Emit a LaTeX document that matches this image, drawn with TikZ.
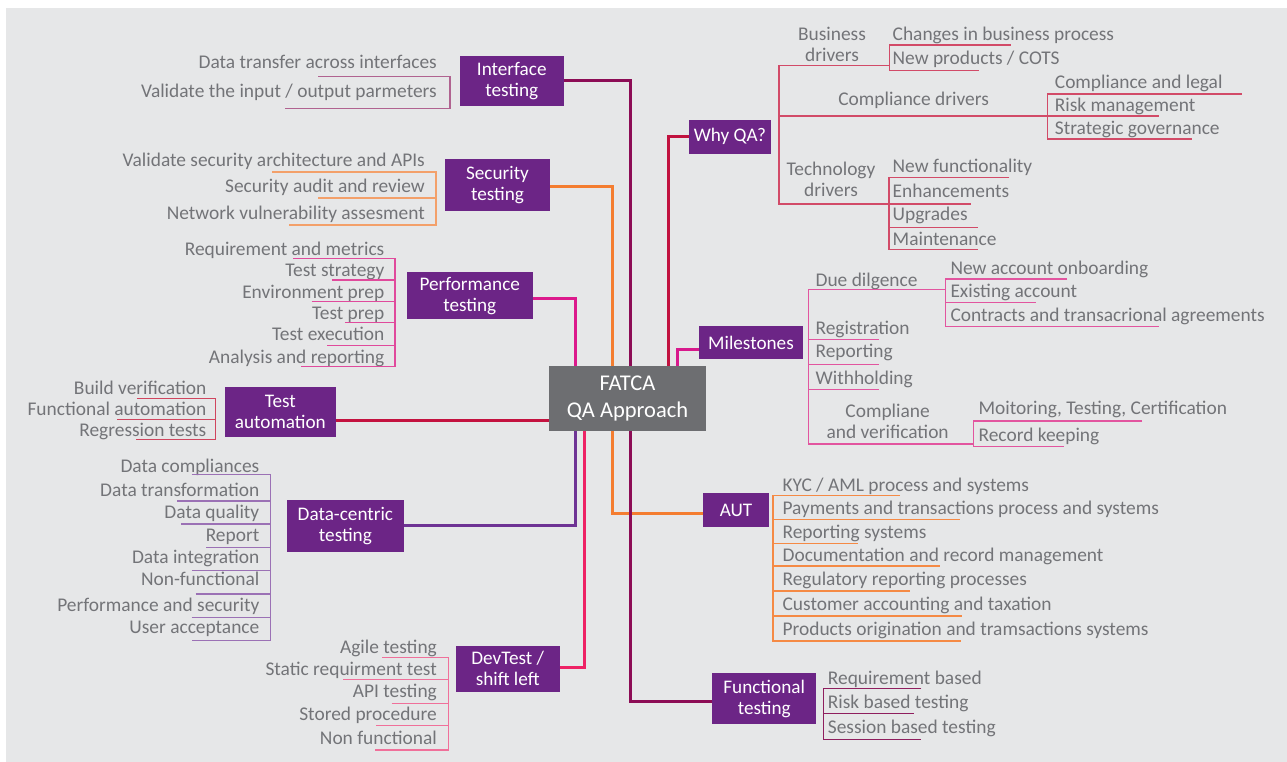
\documentclass[tikz,border=0pt]{standalone}
\usepackage{fontspec}
\setmainfont{Carlito}
\definecolor{bg}{HTML}{E6E7E8}
\definecolor{boxpurple}{HTML}{6C2586}
\definecolor{centergrey}{HTML}{6D6E71}
\definecolor{txtgrey}{HTML}{737478}
\definecolor{cIface}{HTML}{8C0C55}
\definecolor{cOrange}{HTML}{F47D30}
\definecolor{cPerf}{HTML}{DC1A8C}
\definecolor{cTA}{HTML}{C4123F}
\definecolor{cData}{HTML}{6E3394}
\definecolor{cDev}{HTML}{EE2265}
\definecolor{cWhy}{HTML}{C1123F}
\definecolor{cMile}{HTML}{D8198C}
\definecolor{sIface}{HTML}{B06390}
\definecolor{sSec}{HTML}{F3A06A}
\definecolor{sPerf}{HTML}{E04A9C}
\definecolor{sTA}{HTML}{D0455E}
\definecolor{sData}{HTML}{9B71B5}
\definecolor{sDev}{HTML}{F0709A}
\definecolor{sWhy}{HTML}{D24B68}
\definecolor{sMile}{HTML}{E2559F}
\definecolor{sAUT}{HTML}{F58A45}
\definecolor{sFunc}{HTML}{8F1E5E}
\tikzset{
  box/.style={fill=boxpurple, text=white, align=center, inner sep=0pt,
    font=\fontsize{19.2}{21}\selectfont},
  centerbox/.style={fill=centergrey, text=white, align=center, inner sep=0pt,
    minimum width=157pt, minimum height=65pt, font=\fontsize{22.5}{27}\selectfont},
  itemR/.style={text=txtgrey, inner sep=0pt, anchor=base east, font=\fontsize{19.4}{21}\selectfont},
  itemL/.style={text=txtgrey, inner sep=0pt, anchor=base west, font=\fontsize{19.4}{21}\selectfont},
  itemC/.style={text=txtgrey, inner sep=0pt, align=center, font=\fontsize{19.4}{21}\selectfont},
  conn/.style={line width=3pt},
  sub/.style={line width=1.4pt},
}
\begin{document}
\begin{tikzpicture}[x=1pt,y=-1pt]
\useasboundingbox (0,0) rectangle (1287,762);
\fill[white] (0,0) rectangle (1287,762);
\fill[bg] (6,8) rectangle (1287,762);

% boxes
\node[centerbox] (center) at (627.5,398.5) {FATCA\\QA Approach};
\node[box, minimum width=103.5pt, minimum height=49.7pt] (iface) at (511.75,80.85) {Interface\\testing};
\node[box, minimum width=105pt, minimum height=51.7pt] (sec) at (497.5,184.85) {Security\\testing};
\node[box, minimum width=125.5pt, minimum height=47pt] (perf) at (469.75,295.8) {Performance\\testing};
\node[box, minimum width=110.7pt, minimum height=49.4pt] (ta) at (280.35,412) {Test\\automation};
\node[box, minimum width=117.2pt, minimum height=51.7pt] (data) at (345.4,525.85) {Data-centric\\testing};
\node[box, minimum width=103.6pt, minimum height=45.7pt] (dev) at (507.7,668.85) {DevTest /\\shift left};
\node[box, minimum width=81.8pt, minimum height=33.7pt] (why) at (729.9,136.85) {Why QA?};
\node[box, minimum width=104pt, minimum height=33.3pt] (mile) at (751,342.65) {Milestones};
\node[box, minimum width=66pt, minimum height=33.4pt] (aut) at (736,510) {AUT};
\node[box, minimum width=104pt, minimum height=51pt] (func) at (764.2,698.8) {Functional\\testing};

% main connectors
\draw[conn,cIface] (iface.east) -| ([xshift=2.5pt]center.north);
\draw[conn,cOrange] ([yshift=-1.8pt]sec.east) -| ([xshift=-15pt]center.north);
\draw[conn,cPerf] ([yshift=-3pt]perf.east) -| ([xshift=-52.5pt]center.north);
\draw[conn,cTA] ([yshift=-8.7pt]ta.east) -- ([yshift=-8.7pt]ta.east -| center.west);
\draw[conn,cData] (data.east) -| ([xshift=-52.5pt]center.south);
\draw[conn,cDev] ([yshift=1.2pt]dev.east) -| ([xshift=-43.5pt]center.south);
\draw[conn,cWhy] ([yshift=0.8pt]why.west) -| ([xshift=41pt]center.north);
\draw[conn,cMile] ([yshift=-6.6pt]mile.west) -| ([xshift=50pt]center.north);
\draw[conn,cOrange] ([yshift=-3.3pt]aut.west) -| ([xshift=-15pt]center.south);
\draw[conn,cIface] ([yshift=-2.8pt]func.west) -| ([xshift=2.5pt]center.south);

% Interface items
\node[itemR] (i1) at (437,69) {Data transfer across interfaces};
\node[itemR] (i2) at (437,98) {Validate the input / output parmeters};
\draw[sub,sIface] (318,76.7) -- (450,76.7) -- (450,108.7) -- (285,108.7);

% Security items
\node[itemR] (s1) at (425,167) {Validate security architecture and APIs};
\node[itemR] (s2) at (425,193) {Security audit and review};
\node[itemR] (s3) at (425,219) {Network vulnerability assesment};
\draw[sub,sSec] (272,172) -- (436,172) -- (436,225) -- (289,225);
\draw[sub,sSec] (318,198) -- (436,198);

% Performance items
\node[itemR] (p1) at (384.5,255) {Requirement and metrics};
\node[itemR] (p2) at (384.5,276) {Test strategy};
\node[itemR] (p3) at (384.5,298) {Environment prep};
\node[itemR] (p4) at (384.5,319) {Test prep};
\node[itemR] (p5) at (384.5,340) {Test execution};
\node[itemR] (p6) at (384.5,363) {Analysis and reporting};
\draw[sub,sPerf] (293,258.3) -- (395,258.3) -- (395,366.7) -- (300.9,366.7);
\draw[sub,sPerf] (331.5,280) -- (395,280);
\draw[sub,sPerf] (311.6,301.7) -- (395,301.7);
\draw[sub,sPerf] (344.8,322.3) -- (395,322.3);
\draw[sub,sPerf] (327.4,345.3) -- (395,345.3);

% Test automation items
\node[itemR] (t1) at (206.5,394) {Build verification};
\node[itemR] (t2) at (206.5,415) {Functional automation};
\node[itemR] (t3) at (206.5,436) {Regression tests};
\draw[sub,sTA] (136.8,398.7) -- (215.5,398.7) -- (215.5,439.3) -- (136,439.3);
\draw[sub,sTA] (117,419.3) -- (215.5,419.3);

% Data-centric items
\node[itemR] (d1) at (259.5,472) {Data compliances};
\node[itemR] (d2) at (259.5,496) {Data transformation};
\node[itemR] (d3) at (259.5,518) {Data quality};
\node[itemR] (d4) at (259.5,541) {Report};
\node[itemR] (d5) at (259.5,563) {Data integration};
\node[itemR] (d6) at (259.5,585) {Non-functional};
\node[itemR] (d7) at (259.5,611) {Performance and security};
\node[itemR] (d8) at (259.5,633) {User acceptance};
\draw[sub,sData] (191.5,474.7) -- (270.6,474.7) -- (270.6,640.7) -- (191.5,640.7);
\draw[sub,sData] (177,501) -- (270.6,501);
\draw[sub,sData] (181,524) -- (270.6,524);
\draw[sub,sData] (206.4,547.3) -- (270.6,547.3);
\draw[sub,sData] (191.9,570.7) -- (270.6,570.7);
\draw[sub,sData] (195.6,594) -- (270.6,594);
\draw[sub,sData] (191.5,617.3) -- (270.6,617.3);

% DevTest items
\node[itemR] (v1) at (437,653) {Agile testing};
\node[itemR] (v2) at (437,675) {Static requirment test};
\node[itemR] (v3) at (437,697) {API testing};
\node[itemR] (v4) at (437,720) {Stored procedure};
\node[itemR] (v5) at (437,744) {Non functional};
\draw[sub,sDev] (382,657.3) -- (448.4,657.3) -- (448.4,750) -- (375,750);
\draw[sub,sDev] (343,679.3) -- (448.4,679.3);
\draw[sub,sDev] (391.6,703.3) -- (448.4,703.3);
\draw[sub,sDev] (376,725.7) -- (448.4,725.7);

% Why QA
\node[itemC] (wb) at (832,44.8) {Business\\drivers};
\node[itemL] (wb1) at (892.5,41) {Changes in business process};
\node[itemL] (wb2) at (892.5,65) {New products / COTS};
\node[itemC, anchor=base] (wc) at (913.6,106) {Compliance drivers};
\node[itemL] (wc1) at (1054.7,89) {Compliance and legal};
\node[itemL] (wc2) at (1054.7,112) {Risk management};
\node[itemL] (wc3) at (1054.7,135) {Strategic governance};
\node[itemC] (wt) at (831,179.8) {Technology\\drivers};
\node[itemL] (wt1) at (892.5,173) {New functionality};
\node[itemL] (wt2) at (892.5,197) {Enhancements};
\node[itemL] (wt3) at (892.5,221) {Upgrades};
\node[itemL] (wt4) at (892.5,245) {Maintenance};
\draw[sub,sWhy] (889.6,65.7) -- (779,65.7) -- (779,204) -- (971,204);
\draw[sub,sWhy] (779,116) -- (1159,116);
\draw[sub,sWhy] (1010.5,45) -- (889.6,45) -- (889.6,70.7) -- (979.2,70.7);
\draw[sub,sWhy] (1241.6,94) -- (1047.7,94) -- (1047.7,139) -- (1191.7,139);
\draw[sub,sWhy] (1009.3,177.7) -- (888.8,177.7) -- (888.8,249.3) -- (978.4,249.3);
\draw[sub,sWhy] (888.8,227.3) -- (978.4,227.3);

% Milestones
\node[itemL] (m1) at (815.4,286) {Due dilgence};
\node[itemL] (m11) at (950.3,274) {New account onboarding};
\node[itemL] (m12) at (950.3,297) {Existing account};
\node[itemL] (m13) at (950.3,321) {Contracts and transacrional agreements};
\node[itemL] (m2) at (815.4,334) {Registration};
\node[itemL] (m3) at (815.4,357) {Reporting};
\node[itemL] (m4) at (815.4,384) {Withholding};
\node[itemC] (m5) at (887.6,421) {Compliane\\and verification};
\node[itemL] (m51) at (978.4,414) {Moitoring, Testing, Certification};
\node[itemL] (m52) at (978.4,441) {Record keeping};
\draw[sub,sMile] (945.3,289.3) -- (808.4,289.3) -- (808.4,444) -- (973.4,444);
\draw[sub,sMile] (1067,279) -- (945.3,279) -- (945.3,326.7) -- (1159,326.7);
\draw[sub,sMile] (945.3,302.3) -- (1036,302.3);
\draw[sub,sMile] (808.4,339.3) -- (879.3,339.3);
\draw[sub,sMile] (808.4,364.3) -- (879.3,364.3);
\draw[sub,sMile] (808.4,389.3) -- (879.3,389.3);
\draw[sub,sMile] (1142,421) -- (973.4,421) -- (973.4,446.7) -- (1063.8,446.7);

% AUT
\node[itemL] (a1) at (782.4,491) {KYC / AML process and systems};
\node[itemL] (a2) at (782.4,514) {Payments and transactions process and systems};
\node[itemL] (a3) at (782.4,538) {Reporting systems};
\node[itemL] (a4) at (782.4,561) {Documentation and record management};
\node[itemL] (a5) at (782.4,585) {Regulatory reporting processes};
\node[itemL] (a6) at (782.4,610) {Customer accounting and taxation};
\node[itemL] (a7) at (782.4,635) {Products origination and tramsactions systems};
\draw[sub,sAUT] (900,495.7) -- (772.9,495.7) -- (772.9,641) -- (961,641);
\draw[sub,sAUT] (772.9,519.3) -- (959.8,519.3);
\draw[sub,sAUT] (772.9,543.3) -- (857.5,543.3);
\draw[sub,sAUT] (772.9,566) -- (940,566);
\draw[sub,sAUT] (772.9,591) -- (910.3,591);
\draw[sub,sAUT] (772.9,616) -- (961.8,616);

% Functional
\node[itemL] (f1) at (827.7,684) {Requirement based};
\node[itemL] (f2) at (827.7,708) {Risk based testing};
\node[itemL] (f3) at (827.7,733) {Session based testing};
\draw[sub,sFunc] (921.4,688.3) -- (823.2,688.3) -- (823.2,739.3) -- (921.4,739.3);
\draw[sub,sFunc] (823.2,713.7) -- (913.6,713.7);
\end{tikzpicture}
\end{document}
